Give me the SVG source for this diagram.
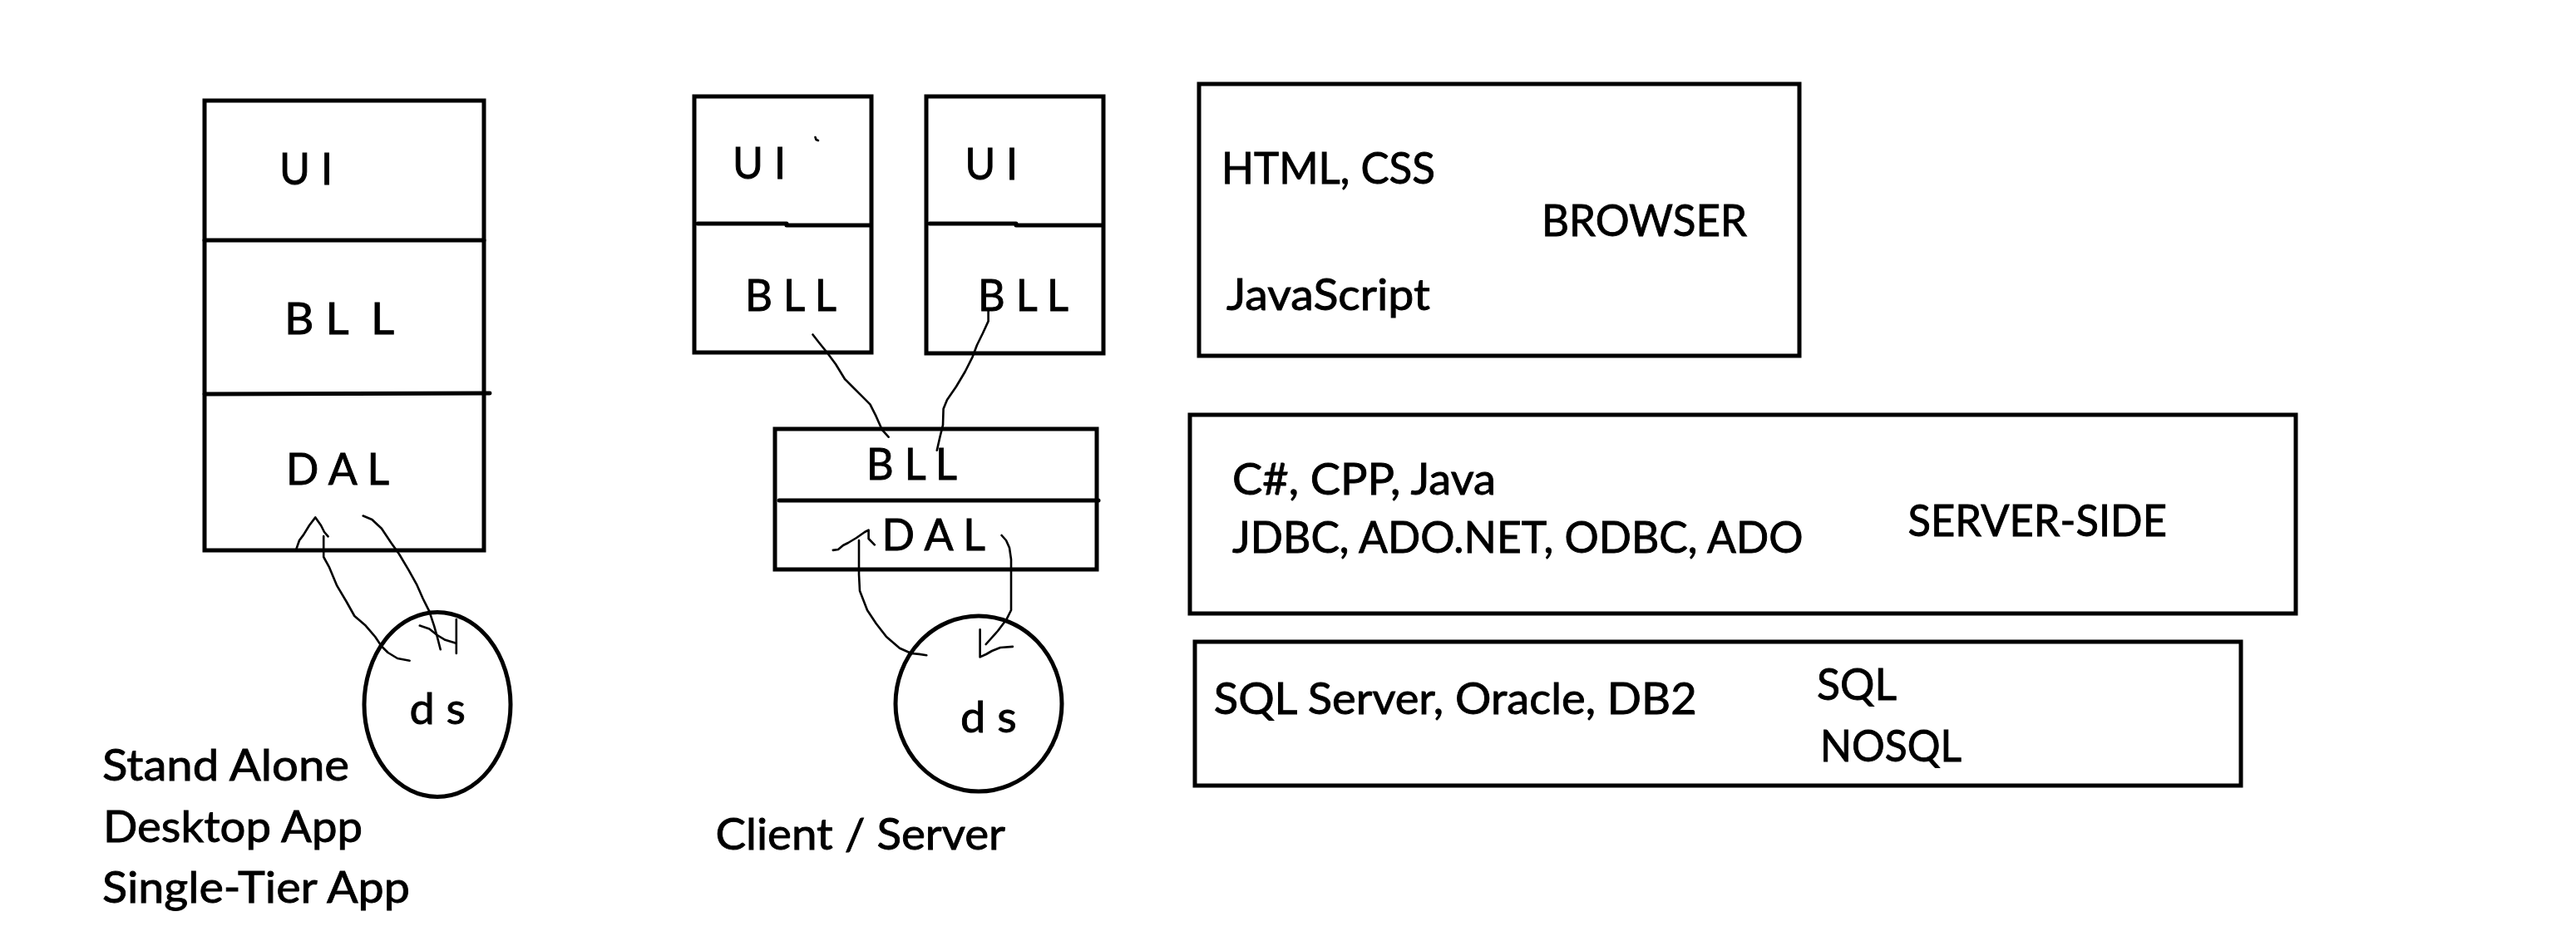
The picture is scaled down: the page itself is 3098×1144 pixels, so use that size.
<svg xmlns="http://www.w3.org/2000/svg" width="3098" height="1144" viewBox="0 0 3098 1144">
<style>
.box{fill:none;stroke:#000;stroke-width:5}
.div{fill:none;stroke:#000;stroke-width:5;stroke-linecap:round}
.wire{fill:none;stroke:#000;stroke-width:2.6;stroke-linecap:round;stroke-linejoin:round}
text{font-family:Lato,"Liberation Sans",Arial,sans-serif;font-size:53px;fill:#000;stroke:#000;stroke-width:0.9}
.sp{white-space:pre}
</style>
<rect x="0" y="0" width="3098" height="1144" fill="#fff"/>

<g id="standalone-stack">
<rect class="box" x="246" y="121" width="336" height="541"/>
<line class="div" x1="246" y1="289" x2="582" y2="289"/>
<line class="div" x1="246" y1="474" x2="589" y2="473"/>
<text x="336" y="222" textLength="64" lengthAdjust="spacingAndGlyphs">U I</text>
<text class="sp" xml:space="preserve" x="342" y="402" textLength="132" lengthAdjust="spacingAndGlyphs">B L  L</text>
<text x="344" y="583" textLength="124" lengthAdjust="spacingAndGlyphs">D A L</text>
</g>

<g id="standalone-ds">
<ellipse class="box" cx="526" cy="847.5" rx="88" ry="111"/>
<text x="492.5" y="871" textLength="67.5" lengthAdjust="spacingAndGlyphs">d s</text>
</g>

<g id="standalone-caption">
<text x="123" y="939" textLength="297" lengthAdjust="spacingAndGlyphs">Stand Alone</text>
<text x="124" y="1013" textLength="312" lengthAdjust="spacingAndGlyphs">Desktop App</text>
<text x="123" y="1085.5" textLength="370" lengthAdjust="spacingAndGlyphs">Single-Tier App</text>
</g>

<g id="client1">
<rect class="box" x="835" y="116" width="213" height="308"/>
<line class="div" x1="839" y1="269" x2="946" y2="269"/>
<line class="div" x1="946" y1="271" x2="1046" y2="271"/>
<text x="881" y="215" textLength="64" lengthAdjust="spacingAndGlyphs">U I</text>
<text x="896" y="374" textLength="110" lengthAdjust="spacingAndGlyphs">B L L</text>
<path class="wire" d="M980.5,165 L981.5,168 L984,169"/>
</g>

<g id="client2">
<rect class="box" x="1114" y="116" width="213" height="309"/>
<line class="div" x1="1118" y1="269" x2="1222" y2="269"/>
<line class="div" x1="1222" y1="271" x2="1325" y2="271"/>
<text x="1160.5" y="215.5" textLength="63.5" lengthAdjust="spacingAndGlyphs">U I</text>
<text x="1176" y="374" textLength="109" lengthAdjust="spacingAndGlyphs">B L L</text>
</g>

<g id="server-stack">
<rect class="box" x="932" y="516" width="387" height="169"/>
<line class="div" x1="937" y1="602" x2="1321" y2="602"/>
<text x="1042" y="576.5" textLength="109" lengthAdjust="spacingAndGlyphs">B L L</text>
<text x="1060.5" y="662" textLength="124.5" lengthAdjust="spacingAndGlyphs">D A L</text>
</g>

<g id="clientserver-ds">
<ellipse class="box" cx="1177" cy="846.5" rx="100" ry="105.5"/>
<text x="1155" y="881" textLength="67.7" lengthAdjust="spacingAndGlyphs">d s</text>
</g>

<g id="clientserver-caption">
<text x="860.5" y="1021.5" textLength="348.5" lengthAdjust="spacingAndGlyphs">Client / Server</text>
</g>

<g id="browser">
<rect class="box" x="1442" y="101" width="722" height="327"/>
<text x="1469" y="220.6" textLength="257" lengthAdjust="spacingAndGlyphs">HTML, CSS</text>
<text x="1854" y="283.6" textLength="247" lengthAdjust="spacingAndGlyphs">BROWSER</text>
<text x="1475" y="373.3" textLength="245" lengthAdjust="spacingAndGlyphs">JavaScript</text>
</g>

<g id="server-side">
<rect class="box" x="1431" y="499" width="1330" height="239"/>
<text x="1482" y="595" textLength="317" lengthAdjust="spacingAndGlyphs">C#, CPP, Java</text>
<text x="1482" y="665" textLength="686.5" lengthAdjust="spacingAndGlyphs">JDBC, ADO.NET, ODBC, ADO</text>
<text x="2294.5" y="645" textLength="311.5" lengthAdjust="spacingAndGlyphs">SERVER-SIDE</text>
</g>

<g id="database">
<rect class="box" x="1437" y="772" width="1258" height="173"/>
<text x="1459.7" y="859" textLength="581" lengthAdjust="spacingAndGlyphs">SQL Server, Oracle, DB2</text>
<text x="2185" y="842" textLength="96" lengthAdjust="spacingAndGlyphs">SQL</text>
<text x="2189" y="915.5" textLength="170" lengthAdjust="spacingAndGlyphs">NOSQL</text>
</g>

<g id="connectors">
<!-- standalone: ds -> DAL (up) -->
<path class="wire" d="M492.6,794.7 L478,792 L466.5,785 L458.9,777.5 L451.2,766 L439.7,752.6 L426.3,741 L416.8,724 L405.3,704.7 L395.7,681.8 L389.2,670 L389.2,645"/>
<path class="wire" d="M356.3,660.6 L360,650 L365,643.4 L372,632 L379.3,622.4 L386,632 L390,640 L394.6,645.3"/>
<!-- standalone: DAL -> ds (down) -->
<path class="wire" d="M436.7,620.5 L447.4,625 L458.9,635.8 L470.4,653 L480,666.5 L491.4,685.6 L501,702.8 L508.6,720 L516.3,735.4 L522,752.6 L525.8,766 L529.7,781.3"/>
<path class="wire" d="M504.8,752.6 L516.3,756.4 L525.8,764 L535.4,769.8 L547.7,773.6"/>
<path class="wire" d="M548.8,745 L548.8,786"/>
<!-- client1 BLL -> server BLL -->
<path class="wire" d="M977.5,402.5 L985.7,413 L994.6,424 L1005,438 L1016,456 L1025,465 L1035.7,475.7 L1046.4,486.4 L1053.6,500.7 L1060.7,516.8 L1068.6,525.7"/>
<!-- client2 BLL -> server BLL -->
<path class="wire" d="M1188.6,374 L1188.6,386.4 L1182,400.7 L1175,415 L1169.6,429.3 L1160.7,447 L1150,465 L1139,481 L1134.6,491.8 L1134,511.4 L1130.4,525.7 L1126.8,541.8"/>
<!-- client/server: ds -> DAL (up) -->
<path class="wire" d="M1114.3,788.3 L1105.4,786.9 L1096,786 L1082,779.7 L1066,766 L1053.6,750 L1043,734 L1037.5,719.7 L1034,710.8 L1033,691 L1033,650"/>
<path class="wire" d="M1001.8,661.9 L1008,661 L1014,656 L1020,653 L1025,650 L1030,647 L1035.7,643 L1040,640 L1044.6,637.6 L1044.6,648 L1051.8,655.4"/>
<!-- client/server: DAL -> ds (down) -->
<path class="wire" d="M1204.6,644 L1210,650 L1214,659 L1216,673 L1216,734 L1210.7,744.7 L1200,759 L1185.7,775"/>
<path class="wire" d="M1178.6,757.2 L1178.6,790.4 L1186,787 L1193,783 L1203,779 L1217.9,777.9"/>
</g>
</svg>
